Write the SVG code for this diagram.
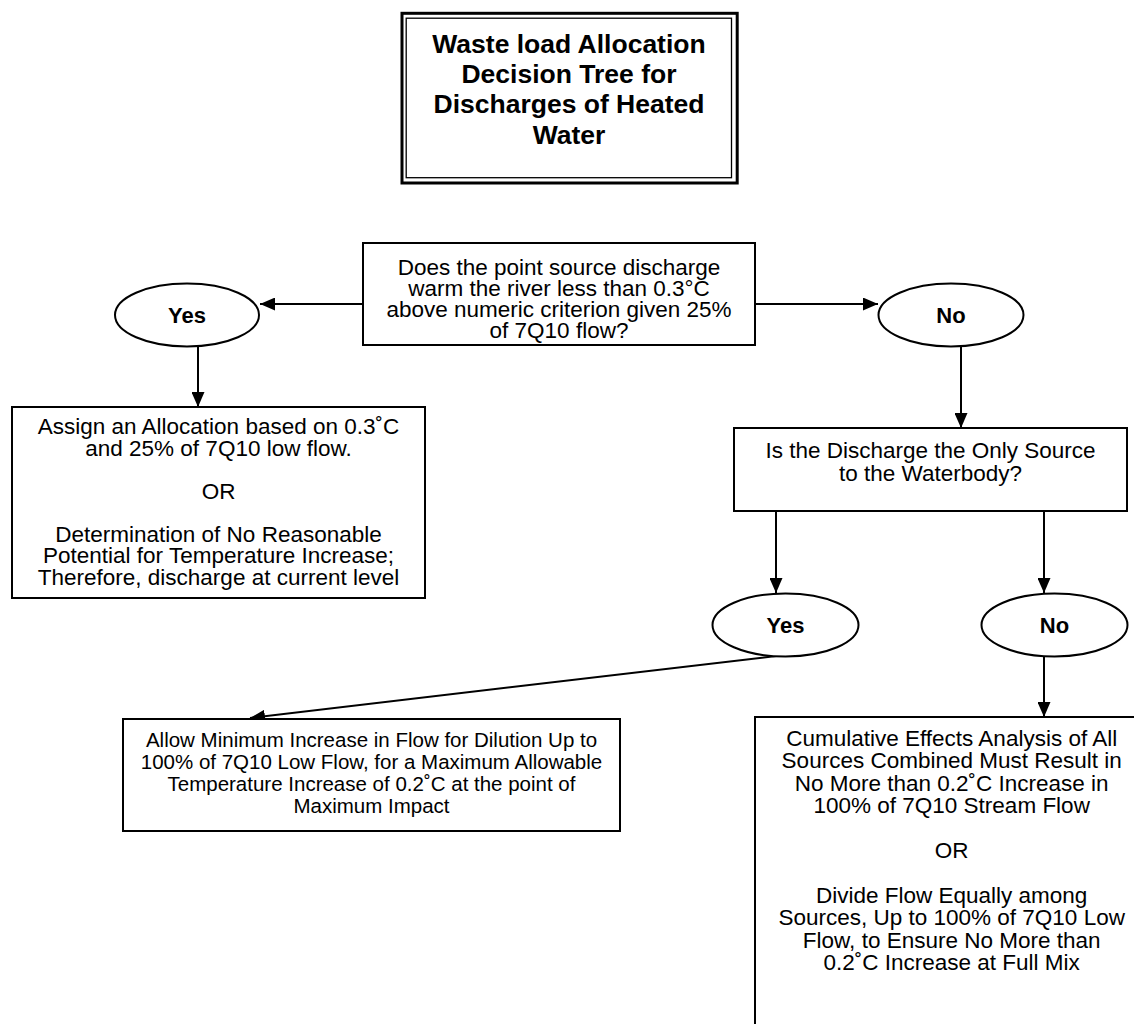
<svg xmlns="http://www.w3.org/2000/svg" width="1134" height="1024" viewBox="0 0 1134 1024">
<defs>
<style>
.box{fill:#fff;stroke:#000;stroke-width:2}
.ell{fill:#fff;stroke:#000;stroke-width:2}
.t{font-family:"Liberation Sans",Arial,sans-serif;font-size:22.5px;fill:#000;text-anchor:middle}
.s{font-family:"Liberation Sans",Arial,sans-serif;font-size:20.5px;fill:#000;text-anchor:middle}
.lb{font-family:"Liberation Sans",Arial,sans-serif;font-size:22px;font-weight:bold;fill:#000;text-anchor:middle}
.ti{font-family:"Liberation Sans",Arial,sans-serif;font-size:26.5px;font-weight:bold;fill:#000;text-anchor:middle}
.c{fill:none;stroke:#000;stroke-width:2;marker-end:url(#ah)}
</style>
<marker id="ah" markerUnits="userSpaceOnUse" markerWidth="15" markerHeight="13" refX="15" refY="6.5" orient="auto">
<path d="M0,0 L15,6.5 L0,13 Z" fill="#000"/>
</marker>
</defs>
<rect width="1134" height="1024" fill="#fff"/>

<g id="title">
<rect x="402" y="13.3" width="335.2" height="169.7" fill="#fff" stroke="#000" stroke-width="3"/>
<rect x="406.2" y="18.2" width="325.3" height="159.5" fill="none" stroke="#000" stroke-width="1.3"/>
<text class="ti" x="569" y="53.3">Waste load Allocation</text>
<text class="ti" x="569" y="83.3">Decision Tree for</text>
<text class="ti" x="569" y="113.3">Discharges of Heated</text>
<text class="ti" x="569" y="143.5">Water</text>
</g>

<g id="connectors">
<line class="c" x1="363" y1="304" x2="260" y2="304"/>
<line class="c" x1="755" y1="304" x2="878" y2="304"/>
<line class="c" x1="198" y1="346" x2="198" y2="407"/>
<line class="c" x1="961" y1="346" x2="961" y2="428"/>
<line class="c" x1="776" y1="511" x2="776" y2="593"/>
<line class="c" x1="1044" y1="511" x2="1044" y2="593"/>
<line class="c" x1="776" y1="656" x2="250" y2="718"/>
<line class="c" x1="1044" y1="656" x2="1044" y2="717"/>
</g>

<g id="q1">
<rect class="box" x="363" y="243" width="392" height="102"/>
<text class="t" x="559" y="275">Does the point source discharge</text>
<text class="t" x="559" y="296">warm the river less than 0.3°C</text>
<text class="t" x="559" y="317">above numeric criterion given 25%</text>
<text class="t" x="559" y="338">of 7Q10 flow?</text>
</g>

<g id="yes1">
<ellipse class="ell" cx="187" cy="315" rx="72" ry="31.5"/>
<text class="lb" x="187" y="323">Yes</text>
</g>

<g id="no1">
<ellipse class="ell" cx="951" cy="315" rx="72.5" ry="31.5"/>
<text class="lb" x="951" y="323">No</text>
</g>

<g id="assign">
<rect class="box" x="12" y="407" width="413" height="191"/>
<text class="t" x="218.5" y="434">Assign an Allocation based on 0.3˚C</text>
<text class="t" x="218.5" y="455.5">and 25% of 7Q10 low flow.</text>
<text class="t" x="218.5" y="498.5">OR</text>
<text class="t" x="218.5" y="541.5">Determination of No Reasonable</text>
<text class="t" x="218.5" y="563">Potential for Temperature Increase;</text>
<text class="t" x="218.5" y="584.5">Therefore, discharge at current level</text>
</g>

<g id="q2">
<rect class="box" x="734" y="428" width="393" height="83"/>
<text class="t" x="930.5" y="458">Is the Discharge the Only Source</text>
<text class="t" x="930.5" y="481">to the Waterbody?</text>
</g>

<g id="yes2">
<ellipse class="ell" cx="785.5" cy="625" rx="73" ry="31.5"/>
<text class="lb" x="785.5" y="633">Yes</text>
</g>

<g id="no2">
<ellipse class="ell" cx="1054.5" cy="625" rx="73" ry="31.5"/>
<text class="lb" x="1054.5" y="633">No</text>
</g>

<g id="allow">
<rect class="box" x="123" y="719" width="497" height="112"/>
<text class="s" x="371.5" y="747">Allow Minimum Increase in Flow for Dilution Up to</text>
<text class="s" x="371.5" y="769">100% of 7Q10 Low Flow, for a Maximum Allowable</text>
<text class="s" x="371.5" y="791">Temperature Increase of 0.2˚C at the point of</text>
<text class="s" x="371.5" y="813">Maximum Impact</text>
</g>

<g id="cumulative">
<rect class="box" x="755" y="717" width="394" height="320"/>
<text class="t" x="951.7" y="746">Cumulative Effects Analysis of All</text>
<text class="t" x="951.7" y="768.4">Sources Combined Must Result in</text>
<text class="t" x="951.7" y="790.8">No More than 0.2˚C Increase in</text>
<text class="t" x="951.7" y="813.2">100% of 7Q10 Stream Flow</text>
<text class="t" x="951.7" y="858">OR</text>
<text class="t" x="951.7" y="902.8">Divide Flow Equally among</text>
<text class="t" x="951.7" y="925.2">Sources, Up to 100% of 7Q10 Low</text>
<text class="t" x="951.7" y="947.6">Flow, to Ensure No More than</text>
<text class="t" x="951.7" y="970">0.2˚C Increase at Full Mix</text>
</g>
</svg>
